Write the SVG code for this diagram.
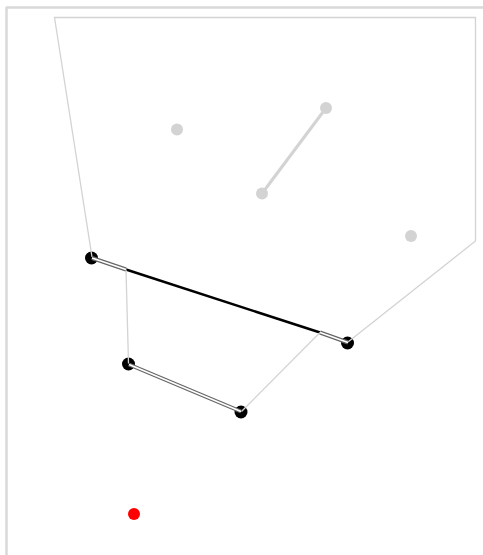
<svg xmlns="http://www.w3.org/2000/svg" width="483" height="555" viewBox="0 0 483 555">
<style>
.frame{stroke:#d9d9d9;stroke-width:2.5;fill:none}
.poly{stroke:#d3d3d3;stroke-width:1.3;fill:none}
.dbl{stroke:#666;stroke-width:4;fill:none}
.dbl2{stroke:#fff;stroke-width:1.6;fill:none}
.node{fill:#000}
.pt{fill:#d3d3d3}
</style>
<rect width="483" height="555" fill="#fff"/>
<g id="frame">
<line class="frame" x1="6" y1="7.5" x2="483" y2="7.5"/>
<line class="frame" x1="6.5" y1="7" x2="6.5" y2="555"/>
</g>
<g id="points">
<circle id="p1" class="pt" cx="177" cy="129.5" r="6"/>
<circle id="p2" class="pt" cx="326" cy="108" r="6"/>
<circle id="p3" class="pt" cx="262" cy="193.5" r="6"/>
<circle id="p4" class="pt" cx="411" cy="236" r="6"/>
<circle id="red" cx="134" cy="514" r="6" fill="#ff0000"/>
</g>
<g id="nodes">
<circle id="n1" class="node" cx="91.5" cy="258" r="6.5"/>
<circle id="n2" class="node" cx="347.5" cy="343" r="6.5"/>
<circle id="n3" class="node" cx="128.5" cy="364" r="6.5"/>
<circle id="n4" class="node" cx="241" cy="412" r="6.5"/>
</g>
<g id="connectors">
<line x1="326" y1="108" x2="262" y2="193.5" stroke="#d3d3d3" stroke-width="3"/>
<line x1="126" y1="269.5" x2="320" y2="332.5" stroke="#000" stroke-width="2.5"/>
<polyline class="poly" points="92,257 54.5,17.5 475.5,17.5 475.5,241 348,342"/>
<line class="poly" x1="320" y1="332.5" x2="241.5" y2="411.5"/>
<line class="poly" x1="128.5" y1="363.5" x2="126" y2="269.5"/>
<line class="dbl" x1="92" y1="258" x2="126" y2="269.5"/>
<line class="dbl2" x1="92" y1="258" x2="126" y2="269.5"/>
<line class="dbl" x1="320" y1="332.5" x2="348" y2="342.5"/>
<line class="dbl2" x1="320" y1="332.5" x2="348" y2="342.5"/>
<line class="dbl" x1="129" y1="364.5" x2="241" y2="411.5"/>
<line class="dbl2" x1="129" y1="364.5" x2="241" y2="411.5"/>
</g>
</svg>
